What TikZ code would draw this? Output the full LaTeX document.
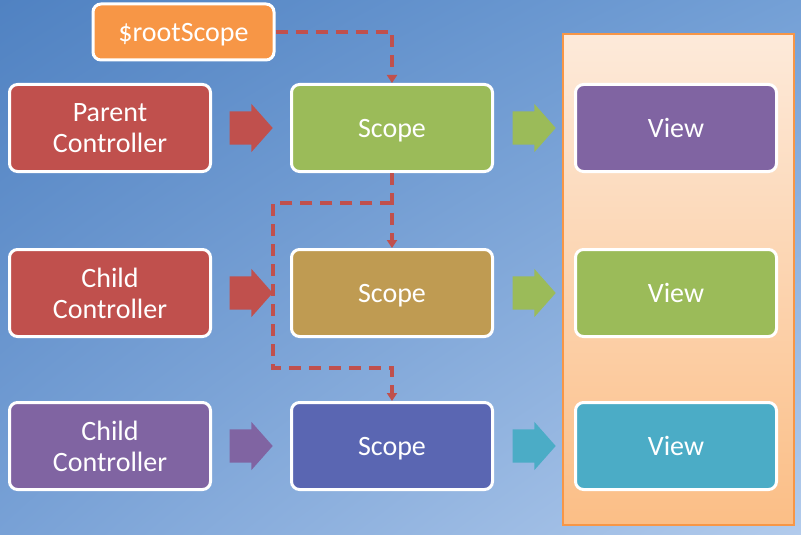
\documentclass[tikz,border=0pt]{standalone}
\usepackage{fontspec}
\setmainfont{Carlito}
\usetikzlibrary{calc,positioning,shapes.arrows,arrows.meta,shadings}
\definecolor{ctrlred}{HTML}{C0504D}
\definecolor{scopegreen}{HTML}{9BBB59}
\definecolor{viewpurple}{HTML}{8064A2}
\definecolor{scopegold}{HTML}{BF9B52}
\definecolor{scopeblue}{HTML}{5A66B2}
\definecolor{viewteal}{HTML}{4BACC6}
\definecolor{rootorange}{HTML}{F79646}
\definecolor{bgUL}{RGB}{80,130,194}
\definecolor{bgUR}{RGB}{116,160,214}
\definecolor{bgLL}{RGB}{120,161,214}
\definecolor{bgLR}{RGB}{178,203,236}
\definecolor{panelTop}{RGB}{253,234,218}
\definecolor{panelBot}{RGB}{251,190,134}
\tikzset{
	box/.style={draw=white, line width=3pt, rounded corners=8pt, fill=#1,
		minimum width=201pt, minimum height=87pt, inner sep=0pt, text depth=0pt,
		text=white, align=center, font=\fontsize{28}{31}\selectfont},
	blockarrow/.style={single arrow, draw=none, fill=#1, inner sep=0pt, anchor=tail,
		minimum height=43pt, single arrow head extend=7.5pt, single arrow tip angle=97},
	link/.style={draw=ctrlred, line width=3.5pt, dash pattern=on 12pt off 8pt,
		-{Triangle[width=10pt,length=8pt]}}
}
\newcommand{\blockfill}{\rule{0pt}{33pt}}

\begin{document}
\begin{tikzpicture}[x=1pt, y=-1pt]
		%%%%% BACKGROUND %%%%%
		\useasboundingbox (0, 0) rectangle (801, 535);
		\shade[upper left=bgUL, upper right=bgUR, lower left=bgLL, lower right=bgLR]
			(0, 0) rectangle (801, 535);
		\shade[top color=panelTop, bottom color=panelBot, draw=rootorange, line width=1.5pt]
			(563, 34) rectangle (794, 525);
		
		%%%%% BOXES %%%%%
		\node[box=rootorange, minimum width=181pt, minimum height=56pt] (root) at (183.5, 32) {\$rootScope};
		
		\node[box=ctrlred] (parentctrl) at (110, 128) {Parent\\Controller};
		\node[box=scopegreen] (scopeA) at (392, 128) {Scope};
		\node[box=viewpurple] (viewA) at (676, 128) {View};
		
		\node[box=ctrlred] (childctrlA) at (110, 293) {Child\\Controller};
		\node[box=scopegold] (scopeB) at (392, 293) {Scope};
		\node[box=scopegreen] (viewB) at (676, 293) {View};
		
		\node[box=viewpurple] (childctrlB) at (110, 446) {Child\\Controller};
		\node[box=scopeblue] (scopeC) at (392, 446) {Scope};
		\node[box=viewteal] (viewC) at (676, 446) {View};
		
		%%%%% BLOCK ARROWS %%%%%
		\node[blockarrow=ctrlred] at ($(parentctrl.east)!0.5!(scopeA.west)+(-21.5,0)$) {\blockfill};
		\node[blockarrow=scopegreen] at ($(scopeA.east)!0.5!(viewA.west)+(-21.5,0)$) {\blockfill};
		\node[blockarrow=ctrlred] at ($(childctrlA.east)!0.5!(scopeB.west)+(-21.5,0)$) {\blockfill};
		\node[blockarrow=scopegreen] at ($(scopeB.east)!0.5!(viewB.west)+(-21.5,0)$) {\blockfill};
		\node[blockarrow=viewpurple] at ($(childctrlB.east)!0.5!(scopeC.west)+(-21.5,0)$) {\blockfill};
		\node[blockarrow=viewteal] at ($(scopeC.east)!0.5!(viewC.west)+(-21.5,0)$) {\blockfill};
		
		%%%%% INHERITANCE %%%%%
		\coordinate (fork) at (392, 203);
		\coordinate (bendA) at (273, 203);
		\coordinate (bendB) at (273, 368);
		\coordinate (bendC) at (392, 368);
		\draw[link] (root.east) -| (scopeA.north);
		\draw[link] (scopeA.south) -- (scopeB.north);
		\draw[link] (fork) -- (bendA) -- (bendB) -- (bendC) -- (scopeC.north);
	\end{tikzpicture}
\end{document}
